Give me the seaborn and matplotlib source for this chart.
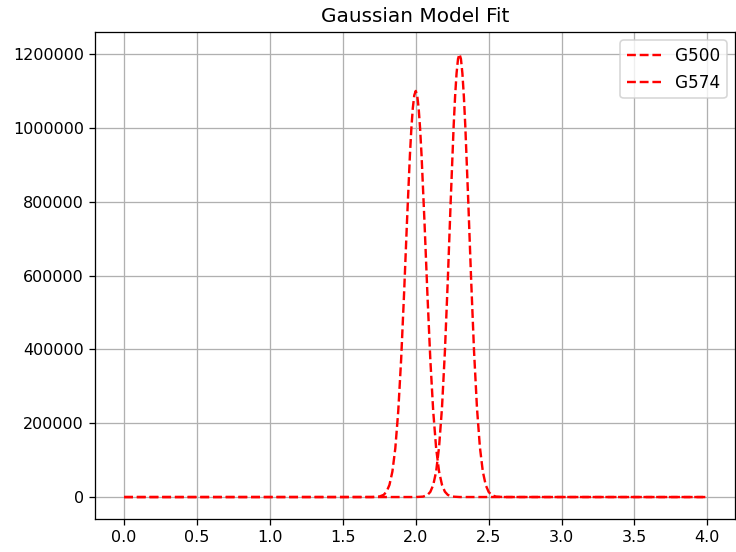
import matplotlib
matplotlib.use("Agg")
import matplotlib.pyplot as plt
import seaborn as sns
import pandas as pd

# G500 curve samples
g500_x = [0.00, 1.70, 1.75, 1.78, 1.80, 1.82, 1.84, 1.86, 1.88, 1.90, 1.92, 1.94,
          1.96, 1.97, 1.98, 1.99, 2.00, 2.01, 2.02, 2.03, 2.04, 2.06, 2.08, 2.10,
          2.12, 2.14, 2.16, 2.18, 2.20, 2.22, 2.25, 2.30, 3.99]
g500_y = [0, 65, 1280, 5870, 14550, 33100, 69100, 132100, 231900, 373100, 550700, 745400,
          925200, 998000, 1053500, 1088200, 1100000, 1088200, 1053500, 998000, 925200, 745400, 550700, 373100,
          231900, 132100, 69100, 33100, 14550, 5870, 1280, 65, 0]

# G574 curve samples
g574_x = [0.00, 2.00, 2.05, 2.08, 2.10, 2.12, 2.14, 2.16, 2.18, 2.20, 2.22, 2.24,
          2.26, 2.27, 2.28, 2.29, 2.30, 2.31, 2.32, 2.33, 2.34, 2.36, 2.38, 2.40,
          2.42, 2.44, 2.46, 2.48, 2.50, 2.52, 2.55, 2.60, 3.99]
g574_y = [0, 53, 1140, 5470, 13940, 32500, 69300, 135300, 241300, 394000, 588300, 803600,
          1004200, 1085500, 1147700, 1186700, 1200000, 1186700, 1147700, 1085500, 1004200, 803600, 588300, 394000,
          241300, 135300, 69300, 32500, 13940, 5470, 1140, 53, 0]

fig = plt.figure(figsize=(6.4, 4.8), dpi=115)
ax = fig.add_axes([95/736, 1 - 519.2/552, 640/736, (519.2 - 31.85)/552])

df500 = pd.DataFrame({"x": g500_x, "y": g500_y})
df574 = pd.DataFrame({"x": g574_x, "y": g574_y})
sns.lineplot(data=df500, x="x", y="y", ax=ax, color="red", linestyle="--", label="G500", sort=False)
sns.lineplot(data=df574, x="x", y="y", ax=ax, color="red", linestyle="--", label="G574", sort=False)

ax.set_xlabel("")
ax.set_ylabel("")
ax.ticklabel_format(style="plain", axis="y", useOffset=False)
ax.grid(True)
ax.set_title("Gaussian Model Fit", fontsize=12.5)
ax.legend(loc="upper right", fontsize=10.6)

fig.savefig("out.png", dpi=115)
